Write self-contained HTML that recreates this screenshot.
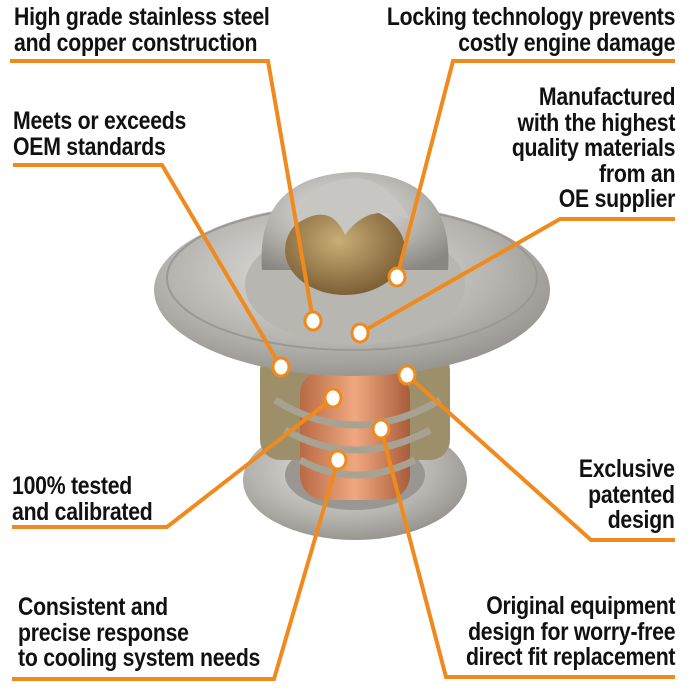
<!DOCTYPE html>
<html><head><meta charset="utf-8"><style>
body{margin:0;background:#fff;width:700px;height:700px;overflow:hidden;position:relative;font-family:"Liberation Sans",sans-serif;}
.t{position:absolute;font-weight:bold;font-size:25px;line-height:25.5px;color:#111;white-space:nowrap;transform:scaleX(0.85);transform-origin:left top;letter-spacing:-0.3px}
.r{text-align:right;right:25px;transform-origin:right top;}
svg{position:absolute;left:0;top:0}
</style></head><body>
<svg width="700" height="700">
<defs>
<radialGradient id="st" cx="0.45" cy="0.4" r="0.7"><stop offset="0" stop-color="#e6e6e4"/><stop offset="0.6" stop-color="#b5b3ae"/><stop offset="1" stop-color="#8a8782"/></radialGradient>
<linearGradient id="cu" x1="0" x2="1"><stop offset="0" stop-color="#b86a45"/><stop offset="0.5" stop-color="#f0a880"/><stop offset="1" stop-color="#a85d3a"/></linearGradient>
<radialGradient id="br" cx="0.45" cy="0.4" r="0.6"><stop offset="0" stop-color="#c9ae78"/><stop offset="1" stop-color="#7d6035"/></radialGradient>
</defs>
<ellipse cx="355" cy="480" rx="112" ry="60" fill="url(#st)"/>
<ellipse cx="355" cy="475" rx="70" ry="35" fill="#9a9792"/>
<rect x="260" y="350" width="190" height="110" rx="20" fill="#9d8f6a"/>
<rect x="300" y="370" width="110" height="130" rx="25" fill="url(#cu)"/>
<path d="M275 400 Q355 450 440 400 M285 430 Q355 470 430 430 M300 460 Q355 490 415 460" stroke="#a8a293" stroke-width="7" fill="none"/>
<ellipse cx="352" cy="290" rx="198" ry="86" fill="url(#st)"/>
<ellipse cx="352" cy="278" rx="185" ry="72" fill="none" stroke="#9c9994" stroke-width="2"/>
<ellipse cx="355" cy="285" rx="110" ry="60" fill="#b8b6b1"/>
<path d="M262 270 Q255 175 355 172 Q455 175 448 270 Z" fill="url(#st)"/>
<ellipse cx="345" cy="250" rx="60" ry="45" fill="url(#br)"/>
<path d="M295 225 Q330 200 345 235 Q370 200 410 220 Q390 180 355 178 Q300 182 295 225Z" fill="#c8c6c2"/>
<g stroke="#f08a1c" stroke-width="4" fill="none">
<polyline points="10,61 268,61 313,320"/>
<polyline points="675,61 453,61 397,277"/>
<polyline points="13,165 162,165 281,367"/>
<polyline points="675,219 560,219 360,333"/>
<polyline points="407,375 591,540 675,540"/>
<polyline points="333,398 167,527 12,527"/>
<polyline points="381,429 446,677 675,677"/>
<polyline points="338,460 274,679 12,679"/>
</g>
<g fill="#fff" stroke="#f08a1c" stroke-width="3">
<ellipse cx="313" cy="321" rx="8" ry="9"/><ellipse cx="397" cy="277" rx="8" ry="9"/>
<ellipse cx="281" cy="367" rx="8" ry="9"/><ellipse cx="360" cy="333" rx="8" ry="9"/>
<ellipse cx="407" cy="375" rx="8" ry="9"/><ellipse cx="333" cy="398" rx="8" ry="9"/>
<ellipse cx="381" cy="429" rx="8" ry="9"/><ellipse cx="338" cy="460" rx="8" ry="9"/>
</g>
</svg>
<div class="t" style="left:14px;top:5px">High grade stainless steel<br>and copper construction</div>
<div class="t r" style="top:5px">Locking technology prevents<br>costly engine damage</div>
<div class="t" style="left:13px;top:109px">Meets or exceeds<br>OEM standards</div>
<div class="t r" style="top:85px">Manufactured<br>with the highest<br>quality materials<br>from an<br>OE supplier</div>
<div class="t" style="left:12px;top:474px">100% tested<br>and calibrated</div>
<div class="t r" style="top:457px">Exclusive<br>patented<br>design</div>
<div class="t" style="left:18px;top:595px">Consistent and<br>precise response<br>to cooling system needs</div>
<div class="t r" style="top:594px">Original equipment<br>design for worry-free<br>direct fit replacement</div>
</body></html>
